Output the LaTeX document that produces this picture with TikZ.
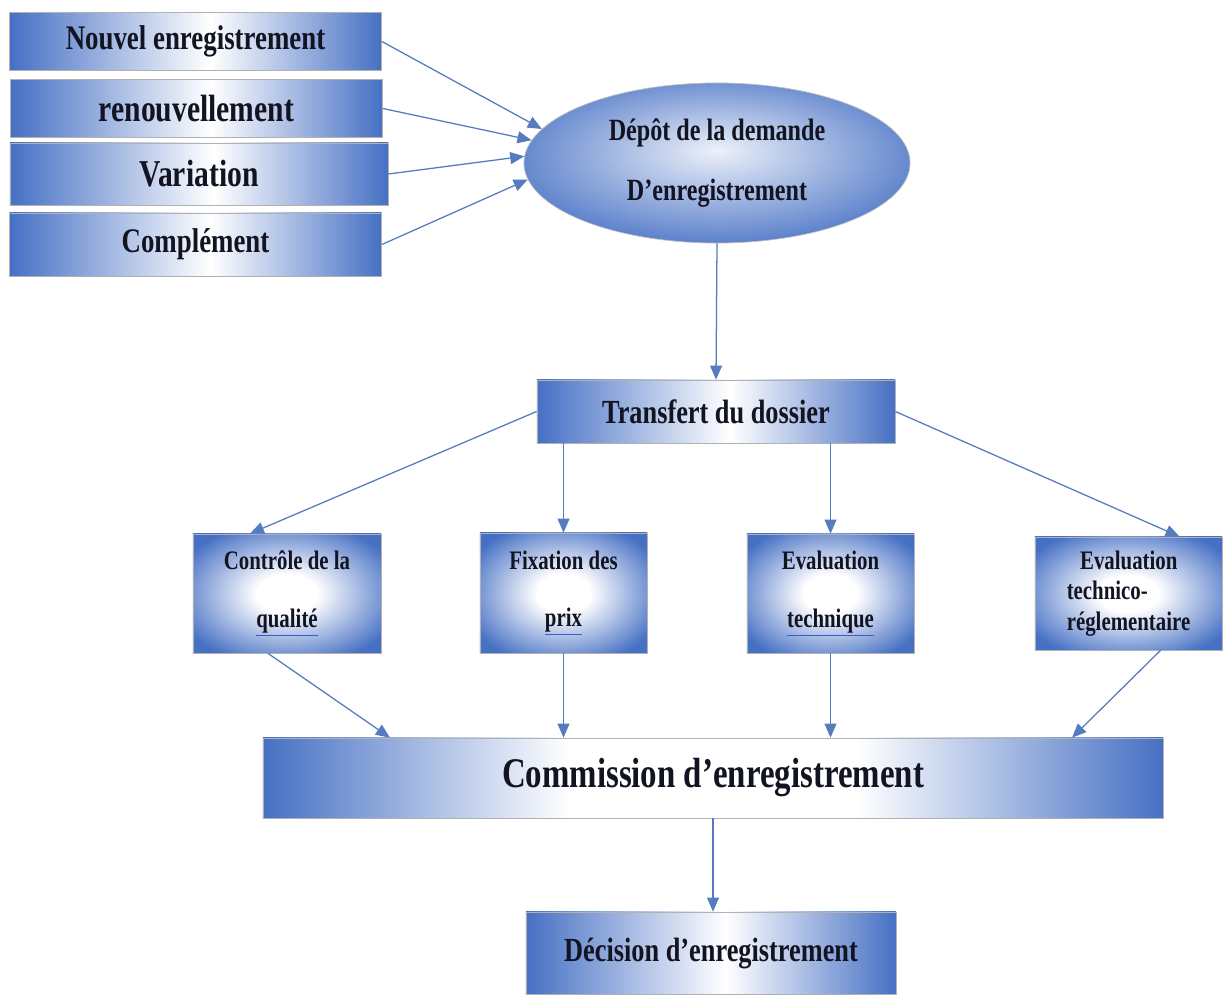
\documentclass[tikz,border=0pt]{standalone}
\usepackage{fontspec}
\setmainfont{Liberation Serif}[FakeStretch=0.78]
\usetikzlibrary{shapes.geometric,arrows.meta}
\definecolor{edgeblue}{RGB}{70,112,196}
\definecolor{flowblue}{RGB}{84,124,190}
\definecolor{ink}{RGB}{18,20,34}
\definecolor{linkblue}{RGB}{60,90,200}
% the path box covers 25bp..75bp of each shading
\pgfdeclarehorizontalshading{sideglow}{100bp}{color(0bp)=(edgeblue); color(25bp)=(edgeblue); color(52bp)=(white); color(75bp)=(edgeblue); color(100bp)=(edgeblue)}
\pgfdeclarehorizontalshading{wideglow}{100bp}{color(0bp)=(edgeblue); color(25bp)=(edgeblue); color(42bp)=(white); color(58bp)=(white); color(75bp)=(edgeblue); color(100bp)=(edgeblue)}
\pgfdeclareradialshading{coreglow}{\pgfpoint{0bp}{0bp}}{color(0bp)=(white); color(8bp)=(white); color(31bp)=(edgeblue); color(50bp)=(edgeblue)}
\pgfdeclareradialshading{ovalglow}{\pgfpoint{0bp}{4bp}}{color(0bp)=(edgeblue!10!white); color(31bp)=(edgeblue); color(50bp)=(edgeblue)}
\newcommand{\linkword}[1]{\textcolor{linkblue}{\underline{\textcolor{ink}{#1}}}}

\begin{document}
\begin{tikzpicture}[x=0.025cm, y=-0.025cm,
  src/.style={draw=gray!60, line width=0.5pt, shade, shading=sideglow, inner sep=0pt, text=ink, minimum width=9.3cm, minimum height=1.45cm, font=\bfseries\fontsize{24.5}{28}\selectfont},
  oval/.style={ellipse, draw=gray!50, line width=0.5pt, shade, shading=ovalglow, inner sep=0pt, text=ink, align=center, minimum width=9.65cm, minimum height=4cm, font=\bfseries\fontsize{22}{43}\selectfont},
  band/.style={draw=gray!60, line width=0.5pt, shade, shading=sideglow, inner sep=0pt, text=ink, font=\bfseries\fontsize{24}{28}\selectfont},
  act/.style={draw=gray!60, line width=0.5pt, shade, shading=coreglow, inner sep=0pt, text=ink, align=center, minimum width=4.175cm, minimum height=3cm, font=\bfseries\fontsize{19}{41}\selectfont},
  flow/.style={draw=flowblue, line width=0.9pt, -{Triangle[length=10pt,width=8.5pt]}}
]
  \fill[white] (0,0) rectangle (1227,992);

  \node[src] (nouv) at (195.5,41.5) {Nouvel enregistrement};
  \node[src, font=\bfseries\fontsize{27}{30}\selectfont] (renouv) at (196.5,108.5) {renouvellement};
  \node[src, minimum width=9.45cm, minimum height=1.55cm, font=\bfseries\fontsize{27}{30}\selectfont] (var) at (199,174) {Variation};
  \node[src, minimum height=1.575cm] (compl) at (195.5,244.5) {Complément};

  \node[oval] (depot) at (717,163) {Dépôt de la demande\\D’enregistrement};
  \node[band, minimum width=8.95cm, minimum height=1.575cm] (trans) at (716,411.5) {Transfert du dossier};

  \node[act, minimum width=4.7cm, minimum height=2.975cm] (ctrl) at (287,593.5) {Contrôle de la\\\linkword{qualité}};
  \node[act] (fix) at (563.5,593) {Fixation des\\\linkword{prix}};
  \node[act, minimum height=2.975cm] (evtech) at (830.5,593.5) {Evaluation\\\linkword{technique}};
  \node[act, align=left, minimum width=4.675cm, minimum height=2.825cm, font=\bfseries\fontsize{19}{21.5}\selectfont] (evreg) at (1128.5,593.5) {\hspace*{0.5em}Evaluation\\technico-\\réglementaire};

  \node[band, shading=wideglow, minimum width=22.5cm, minimum height=2cm, font=\bfseries\fontsize{30}{34}\selectfont] (comm) at (713,778) {Commission d’enregistrement};
  \node[band, minimum width=9.25cm, minimum height=2.05cm] (dec) at (711,953) {Décision d’enregistrement};

  \draw[flow] (nouv.east) -- (depot.169);
  \draw[flow] (renouv.east) -- (depot.173);
  \draw[flow] (var.east) -- (depot.178);
  \draw[flow] (compl.east) -- (depot.185);
  \draw[flow] (depot.south) -- (trans.north);

  \draw[flow] (trans.west) -- ([xshift=-0.925cm]ctrl.north);
  \draw[flow] (fix.north |- trans.south) -- (fix.north);
  \draw[flow] (evtech.north |- trans.south) -- (evtech.north);
  \draw[flow] (trans.east) -- ([xshift=1.275cm]evreg.north);

  \draw[flow] ([xshift=-0.475cm]ctrl.south) -- ([xshift=-8.075cm]comm.north);
  \draw[flow] (fix.south) -- (fix.south |- comm.north);
  \draw[flow] (evtech.south) -- (evtech.south |- comm.north);
  \draw[flow] ([xshift=0.8cm]evreg.south) -- ([xshift=8.975cm]comm.north);
  \draw[flow] (comm.south) -- (comm.south |- dec.north);
\end{tikzpicture}
\end{document}
